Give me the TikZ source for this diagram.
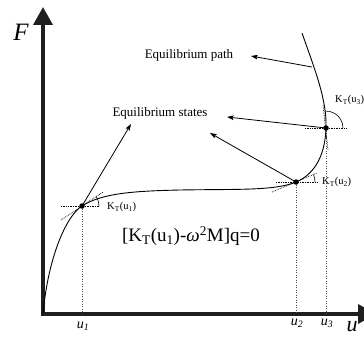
\documentclass[tikz,border=0pt]{standalone}
\usepackage{fontspec}
\setmainfont{Liberation Serif}
\usetikzlibrary{arrows.meta}
\begin{document}
\begin{tikzpicture}[x=1pt,y=-1pt,
 axis/.style={line width=3.6pt, draw=black!88, line join=miter, {Triangle[length=18pt,width=19pt]}-{Triangle[length=18pt,width=19pt]}},
 curve/.style={line width=0.9pt},
 ptr/.style={line width=0.8pt, -{Stealth[length=6.5pt,width=4.5pt,inset=1pt]}},
 tang/.style={densely dotted, line width=0.7pt},
 drop/.style={dotted, line width=0.5pt, black!70},
 anglearc/.style={line width=0.6pt},
 dot/.style={circle, fill, inner sep=0pt, minimum size=5.5pt},
 lbl/.style={font=\fontsize{13}{15}\selectfont, inner sep=0pt},
 klbl/.style={font=\fontsize{10.5}{12}\selectfont, inner sep=0pt, anchor=west},
 tick/.style={font=\fontsize{14}{16}\selectfont\itshape, inner sep=0pt}
]
\useasboundingbox (0,0) rectangle (364,337);
% key points
\coordinate (O) at (43,314);
\coordinate (Ytip) at (43,7);
\coordinate (Xtip) at (376,314);
\coordinate (P1) at (82,206);
\coordinate (P2) at (296,182);
\coordinate (P3) at (326,128);
\coordinate (top) at (302,33);
\coordinate (X1) at (82,314);
\coordinate (X2) at (296,314);
\coordinate (X3) at (326,314);
% axes
\draw[axis] (Ytip) -- (O) -- (Xtip);
% drops
\draw[drop] (P1) -- (X1);
\draw[drop] (P2) -- (X2);
\draw[drop] (P3) -- (X3);
% tangents and angles
\draw[tang] (P1) ++(-21,14) -- ++(42,-28);
\draw[tang] (P1) ++(-21,0) -- ++(39,0);
\draw[anglearc] (P1) ++(17,0) arc[start angle=0, end angle=-33, radius=17];
\draw[tang] (P2) ++(-24,10) -- ++(45,-19);
\draw[tang] (P2) ++(-20,0) -- ++(42,0);
\draw[anglearc] (P2) ++(19,0) arc[start angle=0, end angle=-23, radius=19];
\draw[tang] (P3) ++(-3,-23) -- ++(5,45);
\draw[tang] (P3) ++(-21,0) -- ++(41,0);
\draw[anglearc] (P3) ++(17,0) arc[start angle=0, end angle=-95, radius=17];
% equilibrium path
\draw[curve] (O) .. controls (48,258) and (66,216) .. (P1)
  .. controls (102,193) and (135,191) .. (180,190)
  .. controls (235,189) and (275,191) .. (P2)
  .. controls (311,176) and (325,160) .. (P3)
  .. controls (327,100) and (315,70) .. (top);
% points
\node[dot] (d1) at (P1) {};
\node[dot] (d2) at (P2) {};
\node[dot] (d3) at (P3) {};
% labels
\node[lbl] (lpath) at (189,55) {Equilibrium path};
\node[lbl] (lstates) at (160,113) {Equilibrium states};
\node[klbl] (k1) at (107,207) {K\textsubscript{T}(u\textsubscript{1})};
\node[klbl] (k2) at (322,182) {K\textsubscript{T}(u\textsubscript{2})};
\node[klbl] (k3) at (335,100) {K\textsubscript{T}(u\textsubscript{3})};
\node[font=\fontsize{19}{22}\selectfont, inner sep=0pt] (eq) at (191,236)
  {[K\textsubscript{T}(u\textsubscript{1})-\textit{ω}\textsuperscript{2}M]q=0};
\node[font=\fontsize{25}{28}\selectfont\itshape, inner sep=0pt] (F) at (21,32) {F};
\node[font=\fontsize{22}{24}\selectfont\itshape, inner sep=0pt] (U) at (352,327) {u};
\node[tick] (u1) at (83,326) {u\textsubscript{1}};
\node[tick] (u2) at (297,323) {u\textsubscript{2}};
\node[tick] (u3) at (327,323) {u\textsubscript{3}};
% pointers
\coordinate (a1) at (131,124);
\coordinate (a2) at (210,133);
\coordinate (a3) at (227,117);
\coordinate (c4) at (312,67);
\coordinate (a4) at (251,56);
\draw[ptr] (d1.center) -- (a1);
\draw[ptr] (d2.center) -- (a2);
\draw[ptr] (d3.center) -- (a3);
\draw[ptr] (c4) -- (a4);
\end{tikzpicture}
\end{document}
